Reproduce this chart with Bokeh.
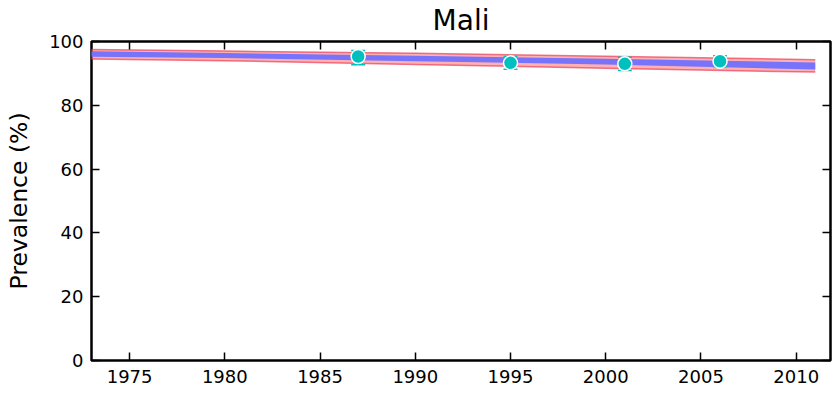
from bokeh.plotting import figure
from bokeh.models import (LinearAxis, FixedTicker, Range1d, ColumnDataSource,
                          CustomLabelingPolicy)
from bokeh.embed import file_html
from bokeh.resources import INLINE

# Data
band_years = [1972, 1980, 1990, 2000, 2011]
blue_lo = [95.3, 94.8, 93.8, 92.8, 91.2]
blue_hi = [97.0, 96.4, 95.5, 94.6, 93.4]
red_lo = [94.6, 94.0, 92.8, 91.6, 90.4]
red_hi = [97.6, 97.0, 96.3, 95.4, 94.3]

obs_years = [1987, 1995, 2001, 2006]
obs_prev = [95.3, 93.3, 93.0, 93.8]
obs_lo = [92.7, 91.3, 90.9, 92.1]
obs_hi = [97.2, 95.3, 95.1, 95.5]

x_ticks = [1975, 1980, 1985, 1990, 1995, 2000, 2005, 2010]
y_ticks = [0, 20, 40, 60, 80, 100]

FONT = "DejaVu Sans"
W, H = 835, 393

p = figure(width=W, height=H, output_backend="svg", toolbar_location=None,
           x_range=Range1d(1973, 2011.8), y_range=Range1d(0, 100),
           min_border_left=91, min_border_right=0, min_border_top=40,
           min_border_bottom=33, title="Mali")
p.title.align = "center"
p.title.text_font = FONT
p.title.text_font_size = "28px"
p.title.text_font_style = "normal"
p.title.text_color = "black"
p.title.standoff = 2
p.title.offset = 5

p.xgrid.visible = False
p.ygrid.visible = False
p.outline_line_color = "black"
p.outline_line_width = 2.5
p.outline_line_alpha = 1.0
p.background_fill_color = "white"
p.border_fill_color = "white"

hide_all = CustomLabelingPolicy(code="return new Set()")

def style_axis(ax, ticks, labels=True):
    ax.ticker = FixedTicker(ticks=ticks)
    ax.axis_line_color = None
    ax.major_tick_in = 8
    ax.major_tick_out = 0
    ax.major_tick_line_width = 1.5
    ax.major_tick_line_color = "black"
    ax.minor_tick_line_color = None
    if labels:
        ax.major_label_text_font = FONT
        ax.major_label_text_font_size = "18px"
        ax.major_label_text_color = "black"
        ax.major_label_standoff = 9
    else:
        ax.major_label_text_font_size = "1px"
        ax.major_label_standoff = 0
        ax.major_label_policy = hide_all

style_axis(p.xaxis[0], x_ticks)
style_axis(p.yaxis[0], y_ticks)
p.yaxis[0].major_label_standoff = 8
p.yaxis[0].axis_label = "Prevalence (%)"
p.yaxis[0].axis_label_text_font = FONT
p.yaxis[0].axis_label_text_font_size = "23.5px"
p.yaxis[0].axis_label_text_font_style = "normal"
p.yaxis[0].axis_label_text_color = "black"
p.yaxis[0].axis_label_standoff = 13

top = LinearAxis()
style_axis(top, x_ticks, labels=False)
p.add_layout(top, "above")
right = LinearAxis()
style_axis(right, y_ticks, labels=False)
p.add_layout(right, "right")

band = ColumnDataSource(dict(x=band_years, blo=blue_lo, bhi=blue_hi, rlo=red_lo, rhi=red_hi))
p.varea(x="x", y1="rlo", y2="rhi", source=band, fill_color="#ff7070", fill_alpha=0.55)
p.line(x="x", y="rlo", source=band, line_color="#e8405a", line_width=1.5, line_alpha=0.7)
p.line(x="x", y="rhi", source=band, line_color="#e8405a", line_width=1.5, line_alpha=0.7)
p.varea(x="x", y1="blo", y2="bhi", source=band, fill_color="#7070ff", fill_alpha=0.95)

obs = ColumnDataSource(dict(x=obs_years, y=obs_prev, lo=obs_lo, hi=obs_hi))
p.segment(x0="x", y0="lo", x1="x", y1="hi", source=obs, line_color="#00bfbf", line_width=1.5)
p.scatter(x="x", y="lo", source=obs, marker="dash", size=14, line_color="#00bfbf", line_width=1.5)
p.scatter(x="x", y="hi", source=obs, marker="dash", size=14, line_color="#00bfbf", line_width=1.5)
p.scatter(x="x", y="y", source=obs, marker="circle", size=14, fill_color="#00bfbf",
          line_color="white", line_width=1.5)

open("out.html", "w").write(file_html(p, INLINE))
